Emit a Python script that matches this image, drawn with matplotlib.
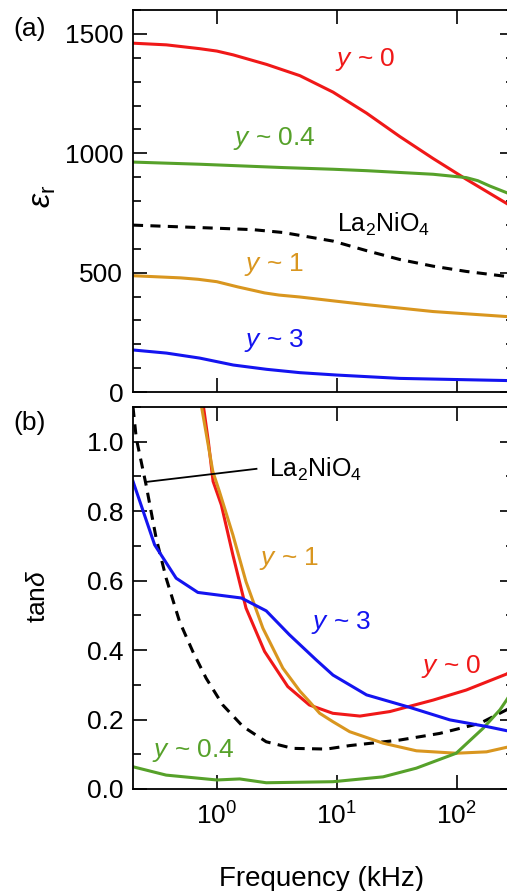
import matplotlib
matplotlib.use("Agg")
import matplotlib.pyplot as plt
from matplotlib.ticker import MultipleLocator, NullLocator, LogLocator, FormatStrFormatter

plt.rcParams['font.family'] = ['Liberation Sans', 'DejaVu Sans']
plt.rcParams['mathtext.fontset'] = 'custom'
plt.rcParams['mathtext.rm'] = 'Liberation Sans'
plt.rcParams['mathtext.it'] = 'Liberation Sans:italic'
plt.rcParams['mathtext.bf'] = 'Liberation Sans:bold'

# ---------------- data: panel (a) dielectric constant ----------------
fa_red = [0.2, 0.38, 0.72, 1.0, 1.37, 2.6, 4.92, 9.3, 17.7, 33.5, 63.5, 120, 260, 300]
eps_red = [1461, 1454, 1438, 1428, 1412, 1372, 1325, 1256, 1168, 1070, 978, 891, 790, 771]

fa_green = [0.2, 0.72, 3.57, 9.3, 17.7, 63.5, 120, 150, 188, 260, 300]
eps_green = [963, 954, 940, 933, 927, 912, 898, 885, 863, 835, 821]

fa_black = [0.2, 1.0, 2.0, 3.57, 9.3, 17.7, 33.5, 63.5, 120, 260, 300]
eps_black = [699, 686, 680, 668, 632, 592, 555, 527, 505, 484, 480]

fa_orange = [0.2, 0.5, 0.7, 1.0, 1.5, 2.0, 2.5, 3.3, 4.9, 10, 17.7, 63.5, 260, 300]
eps_orange = [487, 478, 472, 462, 440, 426, 415, 406, 398, 380, 366, 337, 316, 313]

fa_blue = [0.2, 0.38, 0.72, 1.37, 2.6, 4.92, 10, 33.5, 260, 300]
eps_blue = [176, 163, 142, 113, 95, 81, 71, 57, 48, 47]

# ---------------- data: panel (b) loss tangent ----------------
fb_black = [0.2, 0.213, 0.257, 0.312, 0.378, 0.489, 0.63, 0.814, 1.12, 1.65,
            2.58, 4.3, 8.2, 12.8, 33.5, 72, 156, 260, 300]
tan_black = [1.10, 1.01, 0.876, 0.722, 0.607, 0.482, 0.396, 0.319, 0.242, 0.18,
             0.136, 0.117, 0.115, 0.125, 0.141, 0.160, 0.189, 0.228, 0.24]

fb_blue = [0.2, 0.303, 0.458, 0.695, 1.6, 2.58, 4.03, 6.72, 9.3, 17.7, 40.6,
           87.6, 177, 260, 300]
tan_blue = [0.886, 0.703, 0.607, 0.566, 0.55, 0.513, 0.444, 0.372, 0.328, 0.271,
            0.235, 0.199, 0.18, 0.168, 0.165]

fb_red = [0.76, 0.85, 0.93, 1.09, 1.36, 1.75, 2.5, 3.9, 5.9, 9.26, 15.6, 27.7,
          63.5, 120, 260, 300]
tan_red = [1.12, 1.0, 0.886, 0.818, 0.674, 0.521, 0.396, 0.295, 0.242, 0.218,
           0.210, 0.223, 0.256, 0.285, 0.331, 0.345]

fb_orange = [0.74, 0.926, 1.05, 1.36, 1.75, 2.42, 3.55, 4.92, 5.9, 7.2, 9.26,
             12.8, 24.3, 46.1, 99, 177, 260, 300]
tan_orange = [1.107, 0.914, 0.857, 0.732, 0.597, 0.463, 0.348, 0.282, 0.252,
              0.218, 0.194, 0.165, 0.132, 0.110, 0.103, 0.107, 0.120, 0.125]

fb_green = [0.2, 0.378, 1.0, 1.55, 2.58, 9.3, 24.3, 46, 99, 166, 229, 260, 300]
tan_green = [0.064, 0.040, 0.026, 0.029, 0.018, 0.021, 0.035, 0.06, 0.103,
             0.175, 0.228, 0.256, 0.29]

# ---------------- style ----------------
RED = '#f01818'
GREEN = '#56a12a'
ORANGE = '#d9961f'
BLUE = '#1414f0'
BLACK = '#000000'
LW = 2.2
DASH = (0, (3.3, 2.4))

W, H = 507, 891
fig = plt.figure(figsize=(W / 100, H / 100), dpi=100)
L, R = 133, 514
ax1 = fig.add_axes([L / W, 1 - 392 / H, (R - L) / W, 382 / H])
ax2 = fig.add_axes([L / W, 1 - 789 / H, (R - L) / W, 382 / H])

for ax in (ax1, ax2):
    ax.set_xscale('log')
    ax.set_xlim(0.2, 300)
    ax.xaxis.set_major_locator(LogLocator(base=10, numticks=10))
    ax.xaxis.set_minor_locator(NullLocator())
    ax.tick_params(which='both', direction='in', top=True, right=True,
                   width=1.2, labelsize=19)
    ax.tick_params(which='major', length=10)
    ax.tick_params(which='minor', length=5.8)
    ax.tick_params(axis='y', pad=7)
    ax.tick_params(axis='x', pad=10)
    for s in ax.spines.values():
        s.set_linewidth(1.3)

# panel (a)
ax1.plot(fa_black, eps_black, color=BLACK, lw=LW, linestyle=DASH)
ax1.plot(fa_red, eps_red, color=RED, lw=LW)
ax1.plot(fa_green, eps_green, color=GREEN, lw=LW)
ax1.plot(fa_orange, eps_orange, color=ORANGE, lw=LW)
ax1.plot(fa_blue, eps_blue, color=BLUE, lw=LW)
ax1.set_ylim(0, 1600)
ax1.yaxis.set_major_locator(MultipleLocator(500))
ax1.yaxis.set_minor_locator(MultipleLocator(100))
ax1.tick_params(axis='x', labelbottom=False)
ax1.set_ylabel(r'$\varepsilon_{\mathrm{r}}$', fontsize=23, va='center')
ax1.yaxis.set_label_coords(-0.235, 0.513)

ax1.text(17.1, 1367, r'$y$ ~ 0', color=RED, fontsize=19, ha='center', va='baseline')
ax1.text(2.99, 1034, r'$y$ ~ 0.4', color=GREEN, fontsize=19, ha='center', va='baseline')
ax1.text(24.6, 673, r'La$_2$NiO$_4$', color=BLACK, fontsize=18, ha='center', va='baseline')
ax1.text(2.99, 506, r'$y$ ~ 1', color=ORANGE, fontsize=19, ha='center', va='baseline')
ax1.text(3.0, 190, r'$y$ ~ 3', color=BLUE, fontsize=19, ha='center', va='baseline')

# panel (b)
ax2.plot(fb_black, tan_black, color=BLACK, lw=LW, linestyle=DASH)
ax2.plot(fb_red, tan_red, color=RED, lw=LW)
ax2.plot(fb_orange, tan_orange, color=ORANGE, lw=LW)
ax2.plot(fb_green, tan_green, color=GREEN, lw=LW)
ax2.plot(fb_blue, tan_blue, color=BLUE, lw=LW)
ax2.set_ylim(0, 1.1)
ax2.yaxis.set_major_locator(MultipleLocator(0.2))
ax2.yaxis.set_minor_locator(MultipleLocator(0.1))
ax2.yaxis.set_major_formatter(FormatStrFormatter('%.1f'))
ax2.set_ylabel(r'tan$\delta$', fontsize=19, va='center')
ax2.yaxis.set_label_coords(-0.249, 0.505)
ax2.set_xlabel('Frequency (kHz)', fontsize=20, va='baseline')
ax2.xaxis.set_label_coords(0.496, -0.254)

ax2.plot([0.2546, 2.14], [0.884, 0.922], color=BLACK, lw=1.3)
ax2.text(6.7, 0.898, r'La$_2$NiO$_4$', color=BLACK, fontsize=18, ha='center', va='baseline')
ax2.text(3.98, 0.6455, r'$y$ ~ 1', color=ORANGE, fontsize=19, ha='center', va='baseline')
ax2.text(10.9, 0.46, r'$y$ ~ 3', color=BLUE, fontsize=19, ha='center', va='baseline')
ax2.text(90.3, 0.335, r'$y$ ~ 0', color=RED, fontsize=19, ha='center', va='baseline')
ax2.text(0.641, 0.093, r'$y$ ~ 0.4', color=GREEN, fontsize=19, ha='center', va='baseline')

fig.text(30 / W, 1 - 29 / H, '(a)', fontsize=19, ha='center', va='center')
fig.text(30 / W, 1 - 423 / H, '(b)', fontsize=19, ha='center', va='center')

fig.savefig('out.png', dpi=100)
